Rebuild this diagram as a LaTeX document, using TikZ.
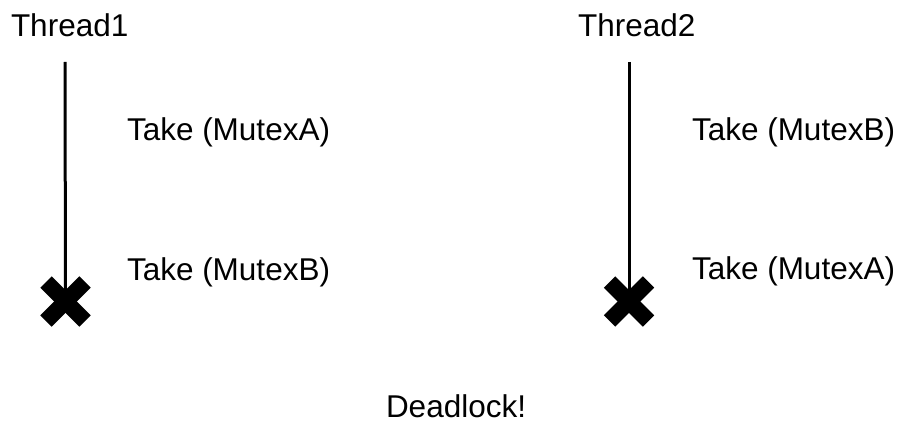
\documentclass[tikz,border=0pt]{standalone}
\usepackage{fontspec}
\setmainfont{Liberation Sans}
\begin{document}
\begin{tikzpicture}[x=1pt,y=-1pt,
  lbl/.style={anchor=base west,inner sep=0pt,outer sep=0pt,font=\fontsize{31.5}{37}\selectfont},
  timeline/.style={line width=3pt},
  crossbar/.style={line width=16pt,line cap=butt},
  stopmark/.style={inner sep=0pt,outer sep=0pt,minimum size=0pt}]
\useasboundingbox (0,0) rectangle (899,422);
% thread labels
\node[lbl] (th1) at (11,37) {Thread1};
\node[lbl] (th2) at (578,37) {Thread2};
% timeline endpoints
\coordinate (s1) at (65,62);
\coordinate (s2) at (629,62);
\node[stopmark] (x1) at (65.5,301.5) {};
\node[stopmark] (x2) at (629,301.5) {};
% timelines
\draw[timeline] (s1) -- (x1.center);
\draw[timeline] (s2) -- (x2.center);
% crosses
\foreach \c in {x1,x2}{
  \draw[crossbar] ([shift={(-19.5,-19.5)}]\c.center) -- ([shift={(19.5,19.5)}]\c.center);
  \draw[crossbar] ([shift={(-19.5,19.5)}]\c.center) -- ([shift={(19.5,-19.5)}]\c.center);
}
% actions
\node[lbl] (a1) at (127,141) {Take (MutexA)};
\node[lbl] (a2) at (127,280) {Take (MutexB)};
\node[lbl] (b1) at (692,141) {Take (MutexB)};
\node[lbl] (b2) at (692,279) {Take (MutexA)};
% result
\node[lbl] (dl) at (386,417) {Deadlock!};
\end{tikzpicture}
\end{document}
